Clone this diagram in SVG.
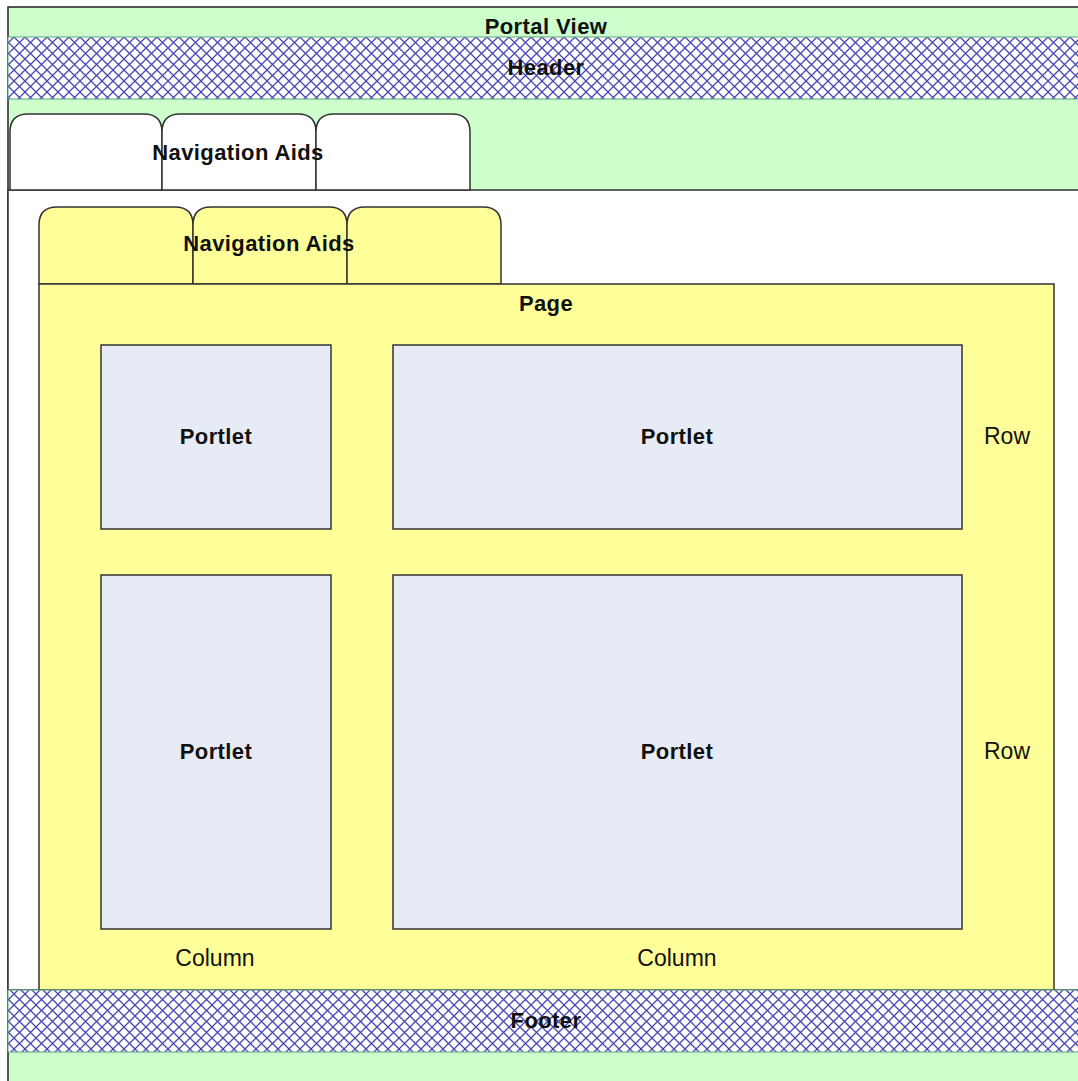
<svg xmlns="http://www.w3.org/2000/svg" width="1078" height="1081" viewBox="0 0 1078 1081">
<defs>
<pattern id="hatch" width="11" height="11" patternUnits="userSpaceOnUse" x="3" y="4">
<rect width="11" height="11" fill="#ffffff"/>
<path d="M0,0 L11,11 M11,0 L0,11" stroke="#4848b4" stroke-width="1.3" fill="none"/>
</pattern>
<style>
.b{font-family:"Liberation Sans",Arial,sans-serif;font-weight:bold;font-size:22px;fill:#111;text-anchor:middle;letter-spacing:0.4px}
.n{font-family:"Liberation Sans",Arial,sans-serif;font-size:23px;fill:#111;text-anchor:middle}
.tab{stroke:#333;stroke-width:1.5}
.port{fill:#e7ebf5;stroke:#333;stroke-width:1.5}
.band{fill:url(#hatch);stroke:#5aa882;stroke-width:1}
</style>
</defs>
<g id="portal-view">
<rect x="8" y="7" width="1072" height="1076" fill="#ccffcc" stroke="#222" stroke-width="1.5"/>
<text class="b" x="546" y="34">Portal View</text>
</g>
<g id="header">
<rect class="band" x="8" y="37" width="1072" height="62"/>
<text class="b" x="546" y="75">Header</text>
</g>
<g id="content-area">
<rect x="8" y="190" width="1072" height="800" fill="#ffffff" stroke="#333" stroke-width="1.5"/>
</g>
<g id="nav-aids-1">
<path class="tab" fill="#ffffff" d="M10,190 V132 Q10,114 28,114 H144 Q162,114 162,132 V190 Z"/>
<path class="tab" fill="#ffffff" d="M162,190 V132 Q162,114 180,114 H298 Q316,114 316,132 V190 Z"/>
<path class="tab" fill="#ffffff" d="M316,190 V132 Q316,114 334,114 H452 Q470,114 470,132 V190 Z"/>
<text class="b" x="238" y="160">Navigation Aids</text>
</g>
<g id="nav-aids-2">
<path class="tab" fill="#ffff99" d="M39,284 V225 Q39,207 57,207 H175 Q193,207 193,225 V284 Z"/>
<path class="tab" fill="#ffff99" d="M193,284 V225 Q193,207 211,207 H329 Q347,207 347,225 V284 Z"/>
<path class="tab" fill="#ffff99" d="M347,284 V225 Q347,207 365,207 H483 Q501,207 501,225 V284 Z"/>
<text class="b" x="269" y="251">Navigation Aids</text>
</g>
<g id="page">
<rect x="39" y="284" width="1015" height="706" fill="#ffff99" stroke="#333" stroke-width="1.5"/>
<text class="b" x="546" y="311">Page</text>
</g>
<g id="portlet-1">
<rect class="port" x="101" y="345" width="230" height="184"/>
<text class="b" x="216" y="444">Portlet</text>
</g>
<g id="portlet-2">
<rect class="port" x="393" y="345" width="569" height="184"/>
<text class="b" x="677" y="444">Portlet</text>
</g>
<g id="portlet-3">
<rect class="port" x="101" y="575" width="230" height="354"/>
<text class="b" x="216" y="759">Portlet</text>
</g>
<g id="portlet-4">
<rect class="port" x="393" y="575" width="569" height="354"/>
<text class="b" x="677" y="759">Portlet</text>
</g>
<g id="labels">
<text class="n" x="1007" y="444">Row</text>
<text class="n" x="1007" y="759">Row</text>
<text class="n" x="215" y="966">Column</text>
<text class="n" x="677" y="966">Column</text>
</g>
<g id="footer">
<rect class="band" x="8" y="990" width="1072" height="62"/>
<text class="b" x="546" y="1028">Footer</text>
</g>
<g id="connectors"/>
</svg>
